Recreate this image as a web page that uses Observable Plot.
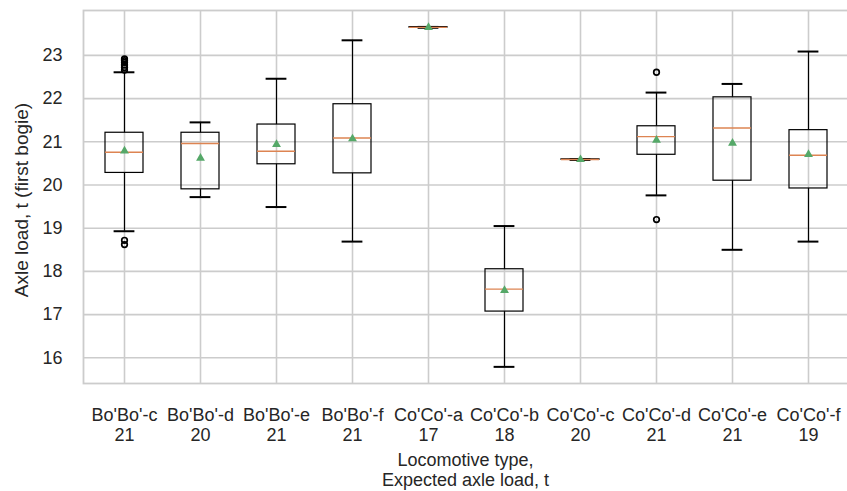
<!DOCTYPE html>
<html>
<head>
<meta charset="utf-8">
<script src="https://cdn.jsdelivr.net/npm/d3@7"></script>
<script src="https://cdn.jsdelivr.net/npm/@observablehq/plot@0.6"></script>
<style>
  html, body { margin: 0; padding: 0; background: #fff; overflow: hidden; }
</style>
</head>
<body>
<div id="chart"></div>
<script>
// Locomotive types and expected axle load (t)
const types = ["Bo'Bo'-c", "Bo'Bo'-d", "Bo'Bo'-e", "Bo'Bo'-f", "Co'Co'-a", "Co'Co'-b", "Co'Co'-c", "Co'Co'-d", "Co'Co'-e", "Co'Co'-f"];
const expected = [21, 20, 21, 21, 17, 18, 20, 21, 21, 19];

// Box statistics (axle load, t, first bogie)
const whiskerLow  = [18.93, 19.72, 19.49, 18.69, 23.64, 15.79, 20.58, 19.76, 18.50, 18.69];
const q1          = [20.28, 19.90, 20.48, 20.27, 23.645, 17.07, 20.585, 20.70, 20.10, 19.92];
const medians     = [20.76, 20.96, 20.78, 21.09, 23.65, 17.59, 20.59, 21.12, 21.32, 20.69];
const q3          = [21.21, 21.21, 21.40, 21.87, 23.655, 18.05, 20.595, 21.36, 22.03, 21.27];
const whiskerHigh = [22.61, 21.45, 22.46, 23.35, 23.66, 19.05, 20.60, 22.14, 22.34, 23.09];
const means       = [20.79, 20.62, 20.94, 21.07, 23.65, 17.56, 20.59, 21.04, 20.97, 20.71];

// Outliers (type, value)
const outlierType  = ["Bo'Bo'-c", "Bo'Bo'-c", "Bo'Bo'-c", "Bo'Bo'-c", "Bo'Bo'-c", "Bo'Bo'-c", "Bo'Bo'-c", "Bo'Bo'-c", "Co'Co'-d", "Co'Co'-d"];
const outlierValue = [22.92, 22.88, 22.84, 22.78, 22.72, 22.66, 18.72, 18.62, 22.61, 19.20];

const yTicks = [16, 17, 18, 19, 20, 21, 22, 23];
const yLabel = "Axle load, t (first bogie)";
const xLabel = "Locomotive type,\nExpected axle load, t";

const stats = types.map((t, i) => ({
  type: t, lo: whiskerLow[i], q1: q1[i], med: medians[i], q3: q3[i], hi: whiskerHigh[i], mean: means[i]
}));
const outliers = outlierType.map((t, i) => ({type: t, value: outlierValue[i]}));

const GRID = "#cccccc";
const TEXT = "#262626";
const FONT = 18;

const chart = Plot.plot({
  width: 847,
  height: 491,
  marginTop: 10,
  marginBottom: 108,
  marginLeft: 83,
  marginRight: 0,
  style: {fontFamily: "'Liberation Sans', Arial, sans-serif", fontSize: "18px", color: TEXT, background: "#fff"},
  x: {type: "band", domain: types, range: [83, 848.6], paddingInner: 0.5, paddingOuter: 0.25, axis: null},
  y: {domain: [15.405, 24.04], axis: null},
  marks: [
    Plot.gridX(types, {stroke: GRID, strokeOpacity: 1, strokeWidth: 1.6}),
    Plot.gridY(yTicks, {stroke: GRID, strokeOpacity: 1, strokeWidth: 1.6}),
    Plot.frame({stroke: GRID, strokeWidth: 1.8, insetRight: -3}),
    // whiskers
    Plot.ruleX(stats, {x: "type", y1: "q3", y2: "hi", stroke: "#000", strokeWidth: 1.2}),
    Plot.ruleX(stats, {x: "type", y1: "lo", y2: "q1", stroke: "#000", strokeWidth: 1.2}),
    // caps
    Plot.tickY(stats, {x: "type", y: "hi", stroke: "#000", strokeWidth: 2, insetLeft: 8.6, insetRight: 8.6}),
    Plot.tickY(stats, {x: "type", y: "lo", stroke: "#000", strokeWidth: 2, insetLeft: 8.6, insetRight: 8.6}),
    // boxes
    Plot.barY(stats, {x: "type", y1: "q1", y2: "q3", fill: "none", stroke: "#000", strokeWidth: 1.2}),
    // medians
    Plot.tickY(stats, {x: "type", y: "med", stroke: "#DD8452", strokeWidth: 1.4}),
    // means
    Plot.dot(stats, {x: "type", y: "mean", symbol: "triangle", r: 3.3, fill: "#55A868", stroke: "none"}),
    // outliers
    Plot.dot(outliers, {x: "type", y: "value", r: 2.8, fill: "none", stroke: "#000", strokeWidth: 1.7}),
    // y tick labels
    Plot.text(yTicks, {y: d => d, text: d => String(d), frameAnchor: "left", textAnchor: "end", dx: -21, fontSize: FONT, fill: TEXT}),
    // x tick labels (two lines)
    Plot.text(stats, {x: "type", text: (d, i) => d.type + "\n" + expected[i], frameAnchor: "bottom", lineAnchor: "top", dy: 23.5, lineHeight: 1.11, fontSize: FONT, fill: TEXT}),
    // x axis label
    Plot.text([xLabel], {text: d => d, frameAnchor: "bottom", lineAnchor: "top", dy: 69, lineHeight: 1.08, fontSize: FONT, fill: TEXT}),
    // y axis label
    Plot.text([yLabel], {text: d => d, frameAnchor: "left", rotate: -90, textAnchor: "middle", lineAnchor: "middle", dx: -62, dy: 3, fontSize: 19, fill: TEXT})
  ]
});
document.getElementById("chart").appendChild(chart);
</script>
</body>
</html>
